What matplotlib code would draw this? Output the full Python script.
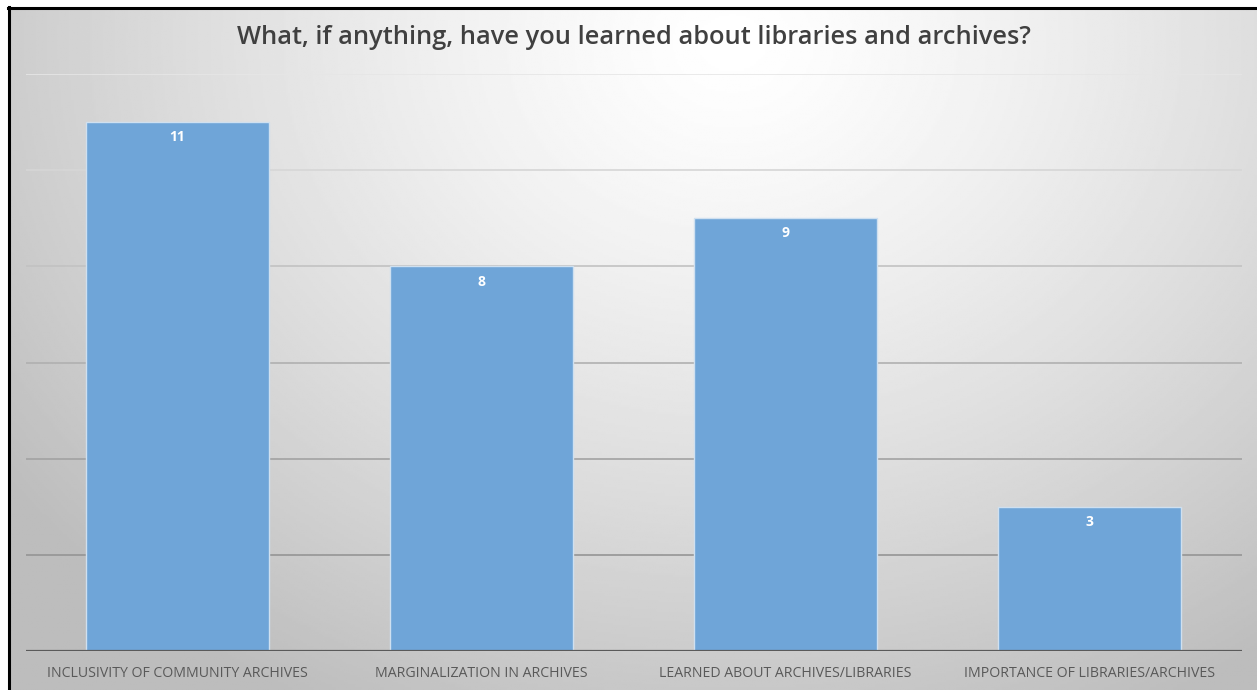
import numpy as np
import matplotlib
matplotlib.use('Agg')
import matplotlib.pyplot as plt
from matplotlib.lines import Line2D

# data
categories = ['INCLUSIVITY OF COMMUNITY ARCHIVES', 'MARGINALIZATION IN ARCHIVES',
              'LEARNED ABOUT ARCHIVES/LIBRARIES', 'IMPORTANCE OF LIBRARIES/ARCHIVES']
counts = [11, 8, 9, 3]
grid_values = [2, 4, 6, 8, 10, 12]
title = 'What, if anything, have you learned about libraries and archives?'

W, H = 1257, 690
fig = plt.figure(figsize=(W / 100, H / 100), dpi=100)
fig.patch.set_facecolor('white')

# radial grey background, lightest near the top middle
bg = fig.add_axes([8 / W, 0, 1 - 8 / W, 1 - 8 / H])
bg.set_axis_off()
yy, xx = np.mgrid[0:1:300j, 0:1:600j]
r = np.sqrt(((xx - 0.58) / 0.72) ** 2 + ((yy - 0.05) / 1.1) ** 2)
shade = 1.0 - 0.26 * np.clip(r, 0, 1) ** 1.3
bg.imshow(shade, cmap='gray', vmin=0, vmax=1, aspect='auto', extent=[0, 1, 1, 0])

# black frame on left and top
fig.add_artist(Line2D([8.5 / W, 8.5 / W], [0, 1 - 7 / H], color='black', lw=2.2))
fig.add_artist(Line2D([8 / W, 1], [1 - 7.5 / H, 1 - 7.5 / H], color='black', lw=2.2))

ax = fig.add_axes([25.5 / W, 1 - 651 / H, (1241.5 - 25.5) / W, (651 - 74) / H])
ax.patch.set_alpha(0)
x = np.arange(len(categories))
ax.set_xlim(-0.5, len(categories) - 0.5)
ax.set_ylim(0, 12)

grid_cols = ['#959595', '#a2a2a2', '#b0b0b0', '#c2c2c2', '#d6d6d6', '#e6e6e6']
for v, c in zip(grid_values, grid_cols):
    ax.axhline(v, color=c, lw=1.2, zorder=1)

bars = ax.bar(x, counts, width=0.6, color='#6fa5d8', edgecolor='#cfe0f0', lw=1.0, zorder=2)
for b, v in zip(bars, counts):
    ax.text(b.get_x() + b.get_width() / 2, v - 0.17, str(v), ha='center', va='top',
            color='white', fontsize=10, fontweight='bold', family='Open Sans', zorder=3)

ax.axhline(0, color='#5a5a5a', lw=1.6, zorder=3)
for s in ax.spines.values():
    s.set_visible(False)
ax.set_yticks([])
ax.set_xticks(x)
ax.set_xticklabels(categories, fontsize=10.2, color='#595959', family='Open Sans')
ax.tick_params(axis='x', length=0, pad=11)

fig.text(0.5 * (25.5 + 1241.5) / W, 1 - 37 / H, title, ha='center', va='center',
         fontsize=18.3, fontweight='semibold', color='#404040', family='Open Sans')

fig.savefig('out.png', dpi=100)
